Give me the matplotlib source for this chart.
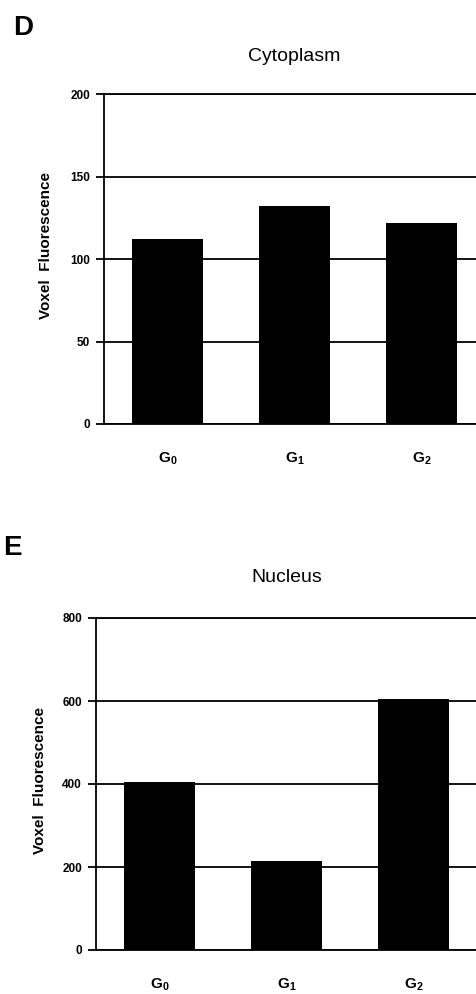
import matplotlib.pyplot as plt
import numpy as np

plt.rcParams['font.family'] = ['Liberation Sans', 'DejaVu Sans']
plt.rcParams['mathtext.fontset'] = 'custom'
plt.rcParams['mathtext.bf'] = 'Liberation Sans:bold'
plt.rcParams['mathtext.rm'] = 'Liberation Sans'

phases = [r'$\mathbf{G_0}$', r'$\mathbf{G_1}$', r'$\mathbf{G_2}$']
cytoplasm = [112, 132, 122]
nucleus = [406, 214, 604]

fig = plt.figure(figsize=(4.76, 9.94), dpi=100)

x = np.arange(len(phases))
w = 0.56


def panel(ax, vals, ymax, step, title, lab_xy, tpad):
    ax.bar(x, vals, width=w, color='black', zorder=3)
    ax.set_xlim(-0.5, 2.5)
    ax.set_ylim(0, ymax)
    ax.set_yticks(np.arange(0, ymax + 1, step))
    ax.yaxis.grid(True, color='black', linewidth=1.3)
    ax.set_axisbelow(True)
    ax.spines['right'].set_visible(False)
    for s in ['left', 'bottom', 'top']:
        ax.spines[s].set_linewidth(1.3)
    ax.set_xticks(x)
    ax.set_xticklabels(phases, fontsize=11)
    ax.tick_params(axis='x', length=0, pad=19)
    ax.tick_params(axis='y', length=6, width=1.3, labelsize=8.5, pad=4)
    for t in ax.get_yticklabels():
        t.set_fontweight('bold')
    ax.set_ylabel('Voxel  Fluorescence', fontsize=11, fontweight='bold')
    ax.yaxis.set_label_coords(*lab_xy)
    ax.set_title(title, fontsize=14, pad=tpad)


ax1 = fig.add_axes([104 / 476, 1 - 424 / 994, 381 / 476, 330 / 994])
panel(ax1, cytoplasm, 200, 50, 'Cytoplasm', (-0.134, 0.54), 24)

ax2 = fig.add_axes([96 / 476, 1 - 950 / 994, 381 / 476, 332 / 994])
panel(ax2, nucleus, 800, 200, 'Nucleus', (-0.129, 0.51), 26)

fig.text(13 / 476, 1 - 35 / 994, 'D', fontsize=20, fontweight='bold')
fig.text(3 / 476, 1 - 555 / 994, 'E', fontsize=20, fontweight='bold')

fig.savefig('out.png', dpi=100)
